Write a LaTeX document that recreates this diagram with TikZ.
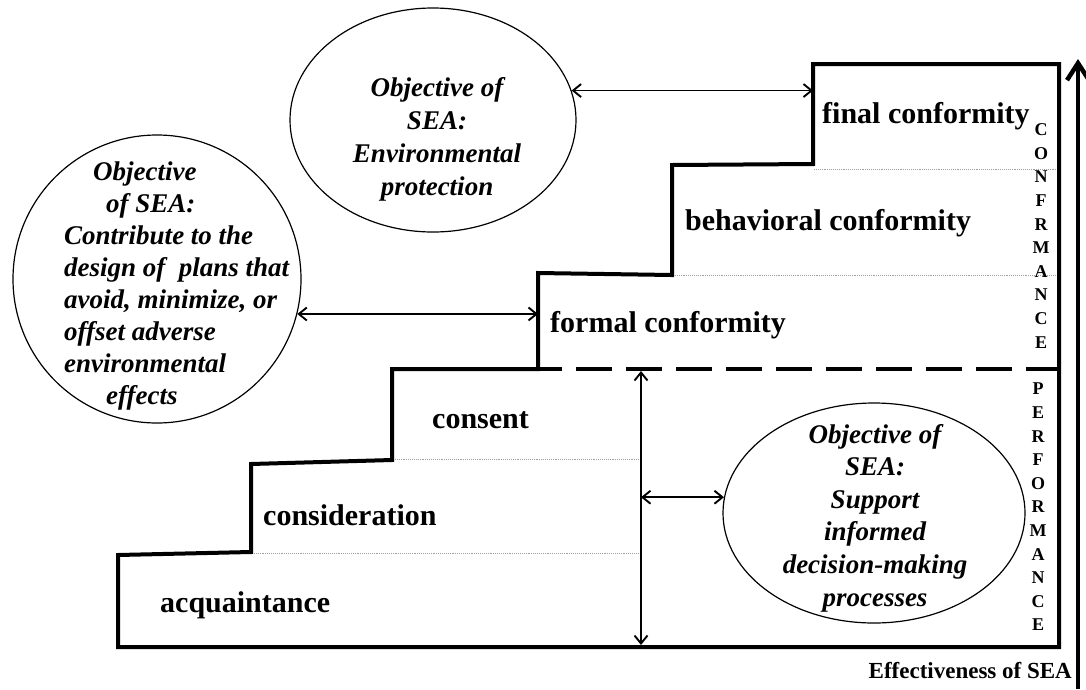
\documentclass[tikz,border=0pt]{standalone}
\usepackage{fontspec}
\setmainfont{Liberation Serif}
\usetikzlibrary{arrows.meta,shapes.geometric}

\begin{document}
\begin{tikzpicture}[x=1pt,y=-1pt,
  stair/.style={line width=4pt, line join=miter},
  stairdash/.style={line width=4pt, dash pattern=on 36pt off 14pt, dash phase=12pt},
  guide/.style={gray!75, line width=0.9pt, densely dotted},
  goal/.style={draw, ellipse, line width=1.2pt, inner sep=0pt},
  goaltext/.style={align=center, inner sep=0pt,
    font=\fontsize{27}{32.6}\selectfont\bfseries\itshape},
  level/.style={anchor=base west, inner sep=0pt,
    font=\fontsize{30}{36}\selectfont\bfseries},
  spine/.style={align=center, inner sep=0pt,
    font=\fontsize{18}{23.6}\selectfont\bfseries},
  link/.style={line width=1.9pt,
    {Straight Barb[length=8pt,width=13pt]}-{Straight Barb[length=8pt,width=13pt]}},
]
\useasboundingbox (0,0) rectangle (1086,689);

% corners of the staircase
\coordinate (b0)  at (118,647);
\coordinate (s1l) at (118,555);
\coordinate (s1r) at (251,552);
\coordinate (s2l) at (251,464);
\coordinate (s2r) at (392,460);
\coordinate (s3l) at (392,369);
\coordinate (s3r) at (538,369);
\coordinate (s4l) at (538,273);
\coordinate (s4r) at (672,275);
\coordinate (s5l) at (672,165);
\coordinate (s5r) at (813,164);
\coordinate (s6l) at (813,64);
\coordinate (tr)  at (1059,64);
\coordinate (br)  at (1059,647);

% thin separators between the levels
\draw[guide] (252,553) -- (641,553);
\draw[guide] (393,459) -- (641,459);
\draw[guide] (673,275) -- (1059,275);
\draw[guide] (814,169) -- (1059,169);

% staircase outline
\draw[stair] (b0) -- (s1l) -- (s1r) -- (s2l) -- (s2r) -- (s3l) -- (s3r)
  -- (s4l) -- (s4r) -- (s5l) -- (s5r) -- (s6l) -- (tr) -- (br) -- cycle;
% boundary between performance and conformance
\draw[stairdash] (s3r) -- (s3r -| br);

% level labels
\node[level] (acq)  at (160,612) {acquaintance};
\node[level] (cons) at (263,525) {consideration};
\node[level] (cnst) at (432,428) {consent};
\node[level] (form) at (550,332) {formal conformity};
\node[level] (behv) at (685,230) {behavioral conformity};
\node[level] (fin)  at (822,123) {final conformity};

% vertical captions
\node[spine] (conf) at (1041,236) {C\\O\\N\\F\\R\\M\\A\\N\\C\\E};
\node[spine] (perf) at (1038,507) {P\\E\\R\\F\\O\\R\\M\\A\\N\\C\\E};

% objectives
\node[goal, minimum width=288pt, minimum height=288pt] (L) at (157,279) {};
\node[anchor=west, align=left, inner sep=0pt,
  font=\fontsize{27}{32.1}\selectfont\bfseries\itshape] (Ltext) at (64,286)
  {\hspace*{29pt}Objective\\
   \hspace*{42pt}of SEA:\\
   Contribute to the\\
   design of~ plans that\\
   avoid, minimize, or\\
   offset adverse\\
   environmental\\
   \hspace*{42pt}effects};

\node[goal, minimum width=286pt, minimum height=224pt] (U) at (433,120) {};
\node[goaltext, font=\fontsize{27}{33}\selectfont\bfseries\itshape] (Utext) at (437,139)
  {Objective of\\ SEA:\\ Environmental\\ protection};

\node[goal, minimum width=302pt, minimum height=220pt] (E) at (874,513) {};
\node[goaltext] (Etext) at (875,518)
  {Objective of\\ SEA:\\ Support\\ informed\\ decision-making\\ processes};

% links between objectives and levels
\draw[link] (L.-14) -- (L.-14 -| s3r);
\draw[link] (U.12) -- (U.12 -| s6l);
\coordinate (vt) at (641,371);
\coordinate (vb) at (641,645);
\draw[link] (vt) -- (vb);
\draw[link] (E.174 -| vt) -- (E.174);

% effectiveness axis
\coordinate (ax0) at (1078,689);
\coordinate (ax1) at (1078,59);
\draw[line width=4.5pt, -{Straight Barb[length=17pt,width=22pt]}] (ax0) -- (ax1);
\node[anchor=base east, inner sep=0pt, font=\fontsize{23}{27}\selectfont\bfseries]
  (eff) at (1072,678) {Effectiveness of SEA};
\end{tikzpicture}
\end{document}
